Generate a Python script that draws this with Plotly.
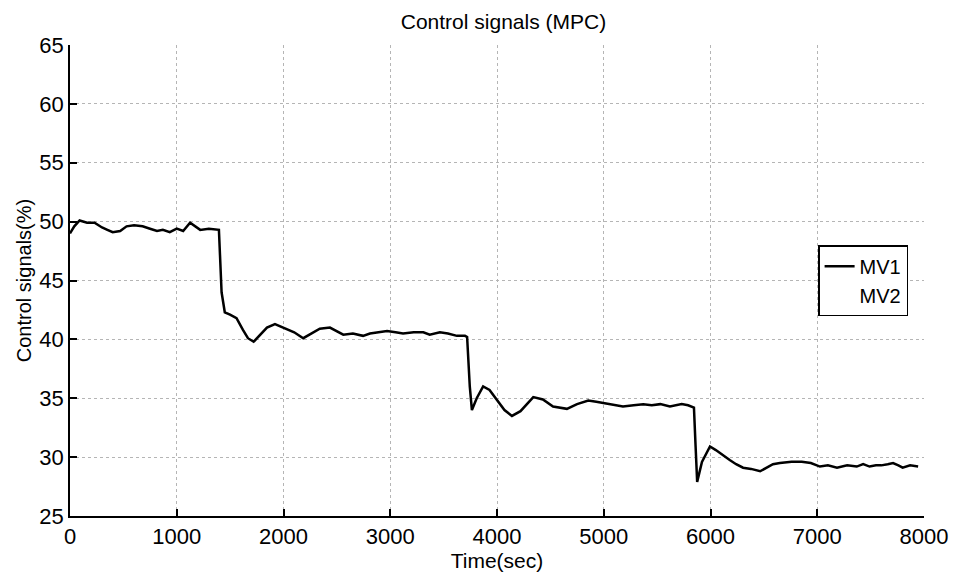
import plotly.graph_objects as go

# Time (sec) and MV1 (%)
t = [0, 40, 90, 160, 230, 300, 350, 400, 470, 530, 600, 680, 750, 815, 870, 935, 1000, 1060, 1125, 1170,
     1220, 1300, 1375, 1395,
     1420, 1450, 1499, 1560, 1620, 1667, 1720, 1780, 1845, 1920, 2000, 2100, 2185, 2260, 2340, 2435, 2500,
     2560, 2650, 2745, 2810, 2875, 2970, 3050, 3120, 3220, 3310, 3370, 3465, 3540, 3625, 3700, 3720,
     3745, 3765, 3810, 3870, 3930, 4000, 4070, 4140, 4220, 4340, 4430, 4525, 4655, 4750, 4855, 4930, 4995,
     5080, 5180, 5280, 5370, 5450, 5530, 5620, 5680, 5730, 5790, 5830, 5845,
     5860, 5875, 5920, 5995, 6050, 6120, 6180, 6240, 6305, 6380, 6465, 6585, 6650, 6760, 6855, 6940, 7025,
     7100, 7185, 7280, 7370, 7430, 7490, 7550, 7600, 7660, 7710, 7760, 7800, 7870, 7945]
mv1 = [49.0, 49.6, 50.1, 49.9, 49.9, 49.5, 49.3, 49.1, 49.2, 49.6, 49.7, 49.6, 49.4, 49.2, 49.3, 49.1,
       49.4, 49.2, 49.9, 49.6, 49.3, 49.4, 49.3, 49.3,
       44.0, 42.3, 42.1, 41.8, 40.8, 40.1, 39.8, 40.4, 41.0, 41.3, 41.0, 40.6, 40.1, 40.5, 40.9, 41.0, 40.7,
       40.4, 40.5, 40.3, 40.5, 40.6, 40.7, 40.6, 40.5, 40.6, 40.6, 40.4, 40.6, 40.5, 40.3, 40.3, 40.2,
       36.0, 34.0, 35.0, 36.0, 35.7, 34.9, 34.0, 33.5, 33.9, 35.1, 34.9, 34.3, 34.1, 34.5, 34.8, 34.7, 34.6,
       34.5, 34.3, 34.4, 34.5, 34.4, 34.5, 34.3, 34.4, 34.5, 34.4, 34.3, 34.2,
       31.0, 27.9, 29.6, 30.9, 30.6, 30.1, 29.75, 29.4, 29.1, 29.0, 28.8, 29.4, 29.5, 29.6, 29.6, 29.5, 29.2,
       29.3, 29.1, 29.3, 29.2, 29.4, 29.2, 29.3, 29.3, 29.4, 29.5, 29.3, 29.1, 29.3, 29.2]

x_ticks = [0, 1000, 2000, 3000, 4000, 5000, 6000, 7000, 8000]
y_ticks = [25, 30, 35, 40, 45, 50, 55, 60, 65]

font = "Liberation Sans, Arial, sans-serif"

fig = go.Figure()
fig.add_trace(go.Scatter(x=t, y=mv1, mode="lines", name="MV1",
                         line=dict(color="black", width=2.5)))
fig.add_trace(go.Scatter(x=[None], y=[None], mode="lines", name="MV2",
                         line=dict(color="white", width=2.5)))

axis_common = dict(
    showline=True, linecolor="black", linewidth=1.5, mirror=False,
    ticks="inside", ticklen=7, tickcolor="black", tickwidth=1.5,
    showgrid=True, gridcolor="#b5b5b5", griddash="dot", gridwidth=1,
    zeroline=False, tickfont=dict(size=22, color="black", family=font),
)

fig.update_layout(
    width=959, height=577,
    margin=dict(l=70, r=35, t=45, b=61),
    paper_bgcolor="white", plot_bgcolor="white",
    font=dict(family=font, color="black"),
    title=dict(text="Control signals (MPC)", x=0.525, xanchor="center",
               y=0.962, yanchor="middle", font=dict(size=21, color="black", family=font)),
    xaxis=dict(range=[0, 8000], tickvals=x_ticks, ticktext=[str(v) for v in x_ticks],
               title=dict(text="Time(sec)", standoff=0, font=dict(size=21)),
               **axis_common),
    yaxis=dict(range=[25, 65], tickvals=y_ticks, ticktext=[str(v) for v in y_ticks],
               title=dict(text="Control signals(%)", standoff=2, font=dict(size=20)),
               **axis_common),
    legend=dict(x=0.876, y=0.575, xanchor="left", yanchor="top",
                bgcolor="white", bordercolor="black", borderwidth=1.5,
                font=dict(size=20, color="black", family=font),
                itemwidth=30, tracegroupgap=0),
    showlegend=True,
)

fig.write_html("out.html")
